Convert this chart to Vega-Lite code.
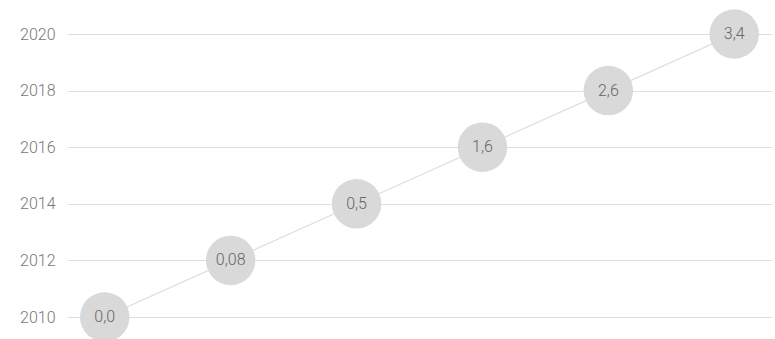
{
  "$schema": "https://vega.github.io/schema/vega-lite/v6.json",
  "autosize": {"type": "none"},
  "width": 705,
  "height": 283,
  "padding": {"left": 67, "top": 34, "right": 3, "bottom": 22},
  "background": "white",
  "config": {"view": {"stroke": null}, "font": "Roboto"},
  "data": {"values": [
    {"year": 2010, "label": "0,0"},
    {"year": 2012, "label": "0,08"},
    {"year": 2014, "label": "0,5"},
    {"year": 2016, "label": "1,6"},
    {"year": 2018, "label": "2,6"},
    {"year": 2020, "label": "3,4"}
  ]},
  "encoding": {
    "x": {"field": "year", "type": "quantitative", "scale": {"domain": [2009.4, 2020.6], "nice": false, "zero": false}, "axis": null},
    "y": {"field": "year", "type": "quantitative", "scale": {"domain": [2010, 2020], "nice": false, "zero": false},
      "axis": {"title": null, "values": [2010, 2012, 2014, 2016, 2018, 2020], "format": "d", "domain": false, "ticks": false, "labelPadding": 12, "labelFontSize": 16, "labelFontWeight": 300, "labelColor": "#777", "gridColor": "#dedede", "gridWidth": 1.2, "labelFont": "Roboto"}}
  },
  "layer": [
    {"mark": {"type": "line", "color": "#dddddd", "strokeWidth": 1.2, "clip": false}},
    {"mark": {"type": "circle", "size": 2450, "color": "#d9d9d9", "opacity": 1, "clip": false}},
    {"mark": {"type": "text", "fontSize": 16, "fontWeight": 300, "color": "#666666", "font": "Roboto"}, "encoding": {"text": {"field": "label"}}}
  ]
}
